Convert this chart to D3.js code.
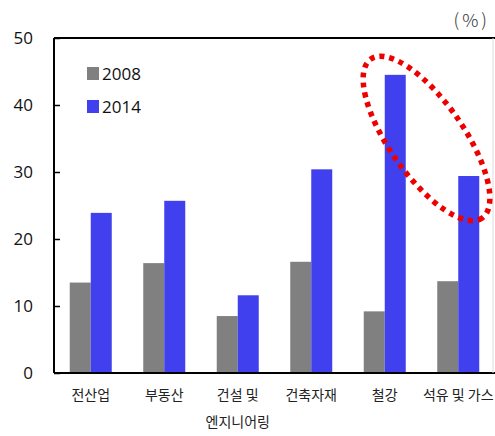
<!DOCTYPE html>
<html>
<head>
<meta charset="utf-8">
<script src="https://cdn.jsdelivr.net/npm/d3@7"></script>
<style>
  body { margin: 0; background: #fff; }
  svg { display: block; }
  .tick-label { font-family: 'Open Sans', 'Noto Sans', sans-serif; font-size: 17px; fill: #111; }
  .cat-label { font-family: 'Noto Sans CJK KR', sans-serif; font-size: 14px; fill: #222; }
</style>
</head>
<body>
<div id="chart"></div>
<script>
const categories = ['전산업', '부동산', '건설 및|엔지니어링', '건축자재', '철강', '석유 및 가스'];
const series = ['2008', '2014'];
const values2008 = [13.5, 16.4, 8.5, 16.6, 9.2, 13.7];
const values2014 = [23.9, 25.7, 11.6, 30.4, 44.5, 29.4];
const yTicks = [0, 10, 20, 30, 40, 50];

const WIDTH = 495;
const HEIGHT = 436;
const MARGIN = { top: 38, right: 0, bottom: 63, left: 54 };
const COLORS = { '2008': '#808080', '2014': '#4040ee' };

const svg = d3.select('#chart')
  .append('svg')
  .attr('width', WIDTH)
  .attr('height', HEIGHT);

const xScale = d3.scaleBand()
  .domain(categories)
  .range([MARGIN.left, WIDTH - MARGIN.right]);

const xInner = d3.scaleBand()
  .domain(series)
  .range([0, 42])
  .padding(0);

const yScale = d3.scaleLinear()
  .domain([0, 50])
  .range([HEIGHT - MARGIN.bottom, MARGIN.top]);

const data = categories.map((c, i) => ({ cat: c, '2008': values2008[i], '2014': values2014[i] }));

// bars
const groups = svg.append('g')
  .selectAll('g')
  .data(data)
  .join('g')
  .attr('transform', d => `translate(${xScale(d.cat) + xScale.bandwidth() / 2 - 21},0)`);

groups.selectAll('rect')
  .data(d => series.map(s => ({ key: s, value: d[s] })))
  .join('rect')
  .attr('x', d => xInner(d.key))
  .attr('width', xInner.bandwidth())
  .attr('y', d => yScale(d.value))
  .attr('height', d => yScale(0) - yScale(d.value))
  .attr('fill', d => COLORS[d.key]);

// y axis with inward ticks
const yAxis = svg.append('g')
  .attr('transform', `translate(${MARGIN.left},0)`)
  .call(d3.axisRight(yScale).tickValues(yTicks).tickSize(6).tickFormat(''));
yAxis.select('.domain').remove();
yAxis.selectAll('line').attr('stroke', '#000').attr('stroke-width', 1.5);

svg.append('g')
  .selectAll('text')
  .data(yTicks)
  .join('text')
  .attr('class', 'tick-label')
  .attr('x', 33)
  .attr('y', d => yScale(d))
  .attr('dy', '0.35em')
  .attr('text-anchor', 'end')
  .text(d => d);

// frame lines
const frame = svg.append('g').attr('stroke', '#000').attr('stroke-width', 2);
frame.append('line')
  .attr('x1', MARGIN.left).attr('x2', MARGIN.left)
  .attr('y1', yScale(50)).attr('y2', yScale(0));
frame.append('line')
  .attr('x1', MARGIN.left).attr('x2', WIDTH)
  .attr('y1', yScale(50)).attr('y2', yScale(50));
frame.append('line')
  .attr('x1', MARGIN.left).attr('x2', WIDTH)
  .attr('y1', yScale(0)).attr('y2', yScale(0));
svg.append('line')
  .attr('x1', WIDTH - 2).attr('x2', WIDTH - 2)
  .attr('y1', yScale(50)).attr('y2', yScale(0))
  .attr('stroke', '#ddd').attr('stroke-width', 1);

// category labels
svg.append('g')
  .selectAll('text')
  .data(categories)
  .join('text')
  .attr('class', 'cat-label')
  .attr('text-anchor', 'middle')
  .attr('x', d => xScale(d) + xScale.bandwidth() / 2)
  .attr('y', 400)
  .each(function (d) {
    const lines = d.split('|');
    d3.select(this).selectAll('tspan')
      .data(lines)
      .join('tspan')
      .attr('x', xScale(d) + xScale.bandwidth() / 2)
      .attr('dy', (l, i) => i === 0 ? 0 : 27)
      .text(l => l);
  });

// legend
const legend = svg.append('g')
  .selectAll('g')
  .data(series)
  .join('g')
  .attr('transform', (d, i) => `translate(87,${67 + i * 33})`);
legend.append('rect')
  .attr('width', 12)
  .attr('height', 13)
  .attr('fill', d => COLORS[d]);
legend.append('text')
  .attr('class', 'tick-label')
  .attr('x', 15)
  .attr('y', 7)
  .attr('dy', '0.35em')
  .text(d => d);

// unit
svg.append('text')
  .attr('x', 490)
  .attr('y', 27)
  .attr('text-anchor', 'end')
  .attr('font-family', "'Noto Sans CJK KR', sans-serif")
  .attr('font-size', 18)
  .attr('font-weight', 300)
  .attr('letter-spacing', 3)
  .attr('fill', '#333')
  .text('(%)');

// dotted red ellipse annotation around 철강 and 석유 및 가스
const cx = (xScale('철강') + xScale('석유 및 가스') + xScale.bandwidth()) / 2 + 5;
const cy = yScale(35);
svg.append('ellipse')
  .attr('cx', 0).attr('cy', 0)
  .attr('rx', 97).attr('ry', 37)
  .attr('transform', `translate(${cx},${cy}) rotate(55)`)
  .attr('fill', 'none')
  .attr('stroke', '#ee0000')
  .attr('stroke-width', 5.5)
  .attr('stroke-dasharray', '5 5');
</script>
</body>
</html>
